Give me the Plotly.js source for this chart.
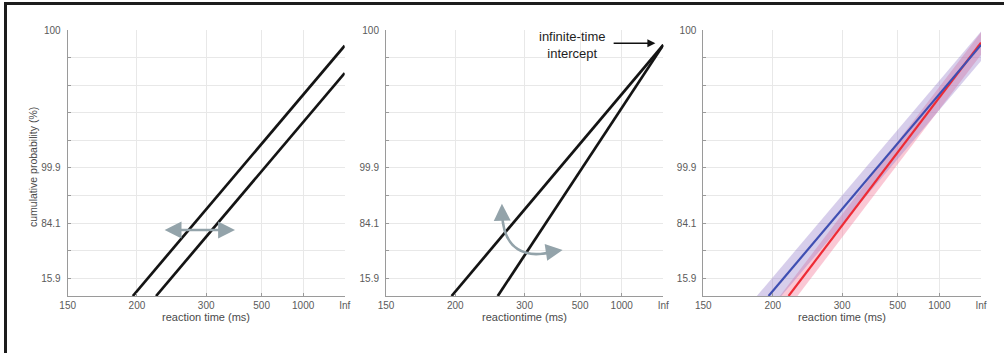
<!DOCTYPE html>
<html>
<head>
<meta charset="utf-8">
<script src="https://cdn.plot.ly/plotly-3.0.1.min.js"></script>
<style>
  html, body { margin: 0; padding: 0; background: #fff; }
  #wrap { position: relative; width: 1004px; height: 353px; overflow: hidden; }
  #chart { position: absolute; left: 0; top: 0; width: 1004px; height: 353px; }
  #frame { position: absolute; left: 4px; top: 2px; width: 1100px; height: 400px;
           border-top: 3px solid #1c1c1c; border-left: 3px solid #1c1c1c; pointer-events: none; }
</style>
</head>
<body>
<div id="wrap"><div id="chart"></div><div id="frame"></div></div>
<script>
// x axis: reciprocal time, -1000/t (t in ms); Inf -> 0
const xTickVals = [-1000/150, -1000/200, -1000/300, -1000/500, -1000/1000, 0];
const xTickText = ['150', '200', '300', '500', '1000', 'Inf'];
// y axis: probit (z units)
const yTickVals = [-1, 0, 1, 2, 3, 4, 5, 6, 7, 8];
const yTickText = ['15.9', '', '84.1', '', '99.9', '', '', '', '', '100'];
const xTitles = ['reaction time (ms)', 'reactiontime (ms)', 'reaction time (ms)'];
const yTitle = 'cumulative probability (%)';

// Panel 1: shift (parallel lines)
const p1LineAx = [-5.10, 0];  const p1LineAy = [-1.64, 7.43];
const p1LineBx = [-4.54, 0];  const p1LineBy = [-1.64, 6.44];
// Panel 2: swivel around infinite-time intercept
const p2LineCx = [-5.09, 0];  const p2LineCy = [-1.64, 7.46];
const p2LineDx = [-3.98, 0];  const p2LineDy = [-1.64, 7.46];
// Panel 3: fitted lines with confidence bands
const blueX = [-5.10, 0];     const blueY = [-1.64, 7.46];
const redX  = [-4.62, 0];     const redY  = [-1.64, 7.54];
const blueBandX = [-5.6, 0];  const blueBandHi = [-2.03, 7.95]; const blueBandLo = [-3.07, 6.88];
const redBandX  = [-5.0, 0];  const redBandHi  = [-1.98, 7.92]; const redBandLo  = [-2.82, 7.10];

const YMIN = -1.64, YMAX = 8;

function poly(x, hi, lo) {
  return { x: x.concat(x.slice().reverse()), y: hi.concat(lo.slice().reverse()) };
}
const bb = poly(blueBandX, blueBandHi, blueBandLo);
const rb = poly(redBandX, redBandHi, redBandLo);

const blackLine = { color: '#141414', width: 2.7 };
const traces = [
  { x: p1LineAx, y: p1LineAy, xaxis: 'x', yaxis: 'y', mode: 'lines', line: blackLine },
  { x: p1LineBx, y: p1LineBy, xaxis: 'x', yaxis: 'y', mode: 'lines', line: blackLine },
  { x: p2LineCx, y: p2LineCy, xaxis: 'x2', yaxis: 'y2', mode: 'lines', line: blackLine },
  { x: p2LineDx, y: p2LineDy, xaxis: 'x2', yaxis: 'y2', mode: 'lines', line: blackLine },
  { x: rb.x, y: rb.y, xaxis: 'x3', yaxis: 'y3', mode: 'lines', fill: 'toself',
    fillcolor: 'rgba(242,125,155,0.42)', line: { width: 0 } },
  { x: bb.x, y: bb.y, xaxis: 'x3', yaxis: 'y3', mode: 'lines', fill: 'toself',
    fillcolor: 'rgba(145,120,200,0.36)', line: { width: 0 } },
  { x: redX, y: redY, xaxis: 'x3', yaxis: 'y3', mode: 'lines', line: { color: '#ee2b35', width: 2.2 } },
  { x: blueX, y: blueY, xaxis: 'x3', yaxis: 'y3', mode: 'lines', line: { color: '#3f4fb2', width: 2.2 } }
];

const W = 1004, H = 353;
const yDom = [1 - 296 / H, 1 - 30 / H];
const xDoms = [[67.7 / W, 344.7 / W], [386 / W, 663.3 / W], [703.3 / W, 981 / W]];

const font = { family: 'Liberation Sans, Arial, sans-serif', size: 10, color: '#5a5a5a' };
const titleFont = { family: font.family, size: 11, color: '#4a4a4a' };
function xAx(i) {
  return {
    domain: xDoms[i], anchor: i === 0 ? 'y' : 'y' + (i + 1),
    range: [-1000/150, 0], tickmode: 'array', tickvals: xTickVals, ticktext: xTickText,
    showgrid: true, gridcolor: '#e8e8e8', gridwidth: 1, zeroline: false,
    showline: true, linecolor: '#9a9a9a', linewidth: 1,
    ticks: 'inside', ticklen: 3, tickcolor: '#9a9a9a', ticklabelstandoff: 0,
    tickfont: font, fixedrange: true
  };
}
function yAx(i) {
  return {
    domain: yDom, anchor: i === 0 ? 'x' : 'x' + (i + 1),
    range: [YMIN, YMAX], tickmode: 'array', tickvals: yTickVals, ticktext: yTickText,
    showgrid: true, gridcolor: '#e8e8e8', gridwidth: 1, zeroline: false,
    showline: true, linecolor: '#9a9a9a', linewidth: 1,
    ticks: 'inside', ticklen: 3, tickcolor: '#9a9a9a', ticklabelstandoff: 4,
    tickfont: font, fixedrange: true
  };
}

// annotation coordinates (data units)
const shiftArrow = { x0: -4.37, x1: -2.64, y: 0.75 };
const swivelUpTip = { x: -3.88, y: 1.70 };
const swivelRightTip = { x: -2.42, y: 0.03 };
const interceptLabel = { x: -2.19, y: 7.46 };
const interceptArrow = { x0: -1.23, x1: -0.19, y: 7.52 };
const arrowGray = '#93a3aa';

const titleAnns = xTitles.map((t, i) => ({
  xref: 'paper', yref: 'paper', x: (xDoms[i][0] + xDoms[i][1]) / 2, y: 1 - 317 / H,
  xanchor: 'center', yanchor: 'middle', text: t, showarrow: false, font: titleFont
}));
titleAnns.push({
  xref: 'paper', yref: 'paper', x: 33 / W, y: 1 - 167 / H, xanchor: 'center', yanchor: 'middle',
  text: yTitle, textangle: -90, showarrow: false, font: { family: font.family, size: 10.5, color: '#4a4a4a' }
});

const layout = {
  width: W, height: H, margin: { l: 0, r: 0, t: 0, b: 0 },
  paper_bgcolor: '#fff', plot_bgcolor: '#fff', showlegend: false,
  font: font,
  xaxis: xAx(0), yaxis: yAx(0),
  xaxis2: xAx(1), yaxis2: yAx(1),
  xaxis3: xAx(2), yaxis3: yAx(2),
  shapes: [
    { type: 'path', xref: 'x2', yref: 'y2',
      path: 'M -3.875,1.37 C -3.851,0.03 -3.322,-0.333 -2.60,-0.007',
      line: { color: arrowGray, width: 2.6 } }
  ],
  annotations: titleAnns.concat([
    { xref: 'x', yref: 'y', axref: 'x', ayref: 'y', x: shiftArrow.x1, y: shiftArrow.y,
      ax: shiftArrow.x0, ay: shiftArrow.y, text: '', showarrow: true, arrowside: 'end+start',
      arrowhead: 2, arrowsize: 1.3, arrowwidth: 2.6, arrowcolor: arrowGray },
    { xref: 'x2', yref: 'y2', axref: 'x2', ayref: 'y2', x: swivelUpTip.x, y: swivelUpTip.y,
      ax: -3.875, ay: 1.30, text: '', showarrow: true,
      arrowhead: 2, arrowsize: 1.3, arrowwidth: 2.6, arrowcolor: arrowGray },
    { xref: 'x2', yref: 'y2', axref: 'x2', ayref: 'y2', x: swivelRightTip.x, y: swivelRightTip.y,
      ax: -2.68, ay: -0.03, text: '', showarrow: true,
      arrowhead: 2, arrowsize: 1.3, arrowwidth: 2.6, arrowcolor: arrowGray },
    { xref: 'x2', yref: 'y2', x: interceptLabel.x, y: interceptLabel.y, showarrow: false,
      text: 'infinite-time<br>intercept', align: 'center',
      font: { family: font.family, size: 13, color: '#1e1e1e' } },
    { xref: 'x2', yref: 'y2', axref: 'x2', ayref: 'y2', x: interceptArrow.x1, y: interceptArrow.y,
      ax: interceptArrow.x0, ay: interceptArrow.y, text: '', showarrow: true,
      arrowhead: 2, arrowsize: 1, arrowwidth: 1.6, arrowcolor: '#111' }
  ])
};

Plotly.newPlot('chart', traces, layout, { staticPlot: true, displayModeBar: false });
</script>
</body>
</html>
